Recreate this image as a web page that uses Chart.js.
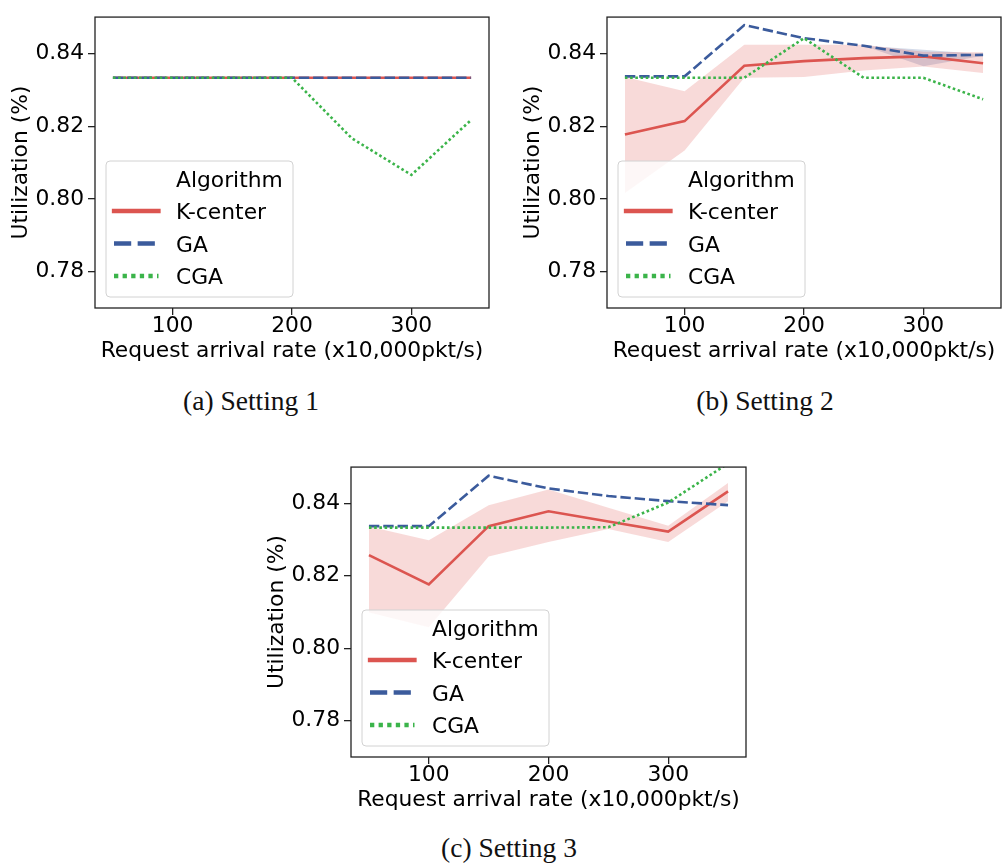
<!DOCTYPE html>
<html>
<head>
<meta charset="utf-8">
<script src="https://cdn.jsdelivr.net/npm/chart.js@4.4.0/dist/chart.umd.min.js"></script>
<style>
  html, body { margin: 0; padding: 0; background: #fff; }
  body { position: relative; width: 1002px; height: 865px; overflow: hidden; }
  canvas { position: absolute; }
  .caption {
    position: absolute; width: 240px; text-align: center;
    font-family: "Liberation Serif", serif; font-size: 27.5px; line-height: 27.5px;
    color: #111; white-space: nowrap;
  }
</style>
</head>
<body>
<canvas id="s1" width="500" height="380" style="left:0;top:0"></canvas>
<canvas id="s2" width="502" height="380" style="left:500px;top:0"></canvas>
<canvas id="s3" width="500" height="380" style="left:260px;top:450px"></canvas>
<div class="caption" style="left:131px;top:387px">(a) Setting 1</div>
<div class="caption" style="left:645px;top:387px">(b) Setting 2</div>
<div class="caption" style="left:389px;top:834px">(c) Setting 3</div>

<script>
// request arrival rate (x10,000 pkt/s)
const rates = [50, 100, 150, 200, 250, 300, 350];
const xTicks = [100, 200, 300];
const yTicks = [0.78, 0.80, 0.82, 0.84];

// Setting 1
const kcenter1 = [0.8333, 0.8333, 0.8333, 0.8333, 0.8333, 0.8333, 0.8333];
const ga1      = [0.8333, 0.8333, 0.8333, 0.8333, 0.8333, 0.8333, 0.8333];
const cga1     = [0.8333, 0.8333, 0.8333, 0.8333, 0.8167, 0.8066, 0.8217];

// Setting 2
const kcenter2   = [0.8177, 0.8214, 0.8366, 0.8379, 0.8387, 0.8392, 0.8373];
const kcenter2Lo = [0.8016, 0.8133, 0.8333, 0.8335, 0.8353, 0.8364, 0.8346];
const kcenter2Hi = [0.8335, 0.8296, 0.8424, 0.8424, 0.8424, 0.8405, 0.8403];
const ga2        = [0.8337, 0.8337, 0.8478, 0.8442, 0.8421, 0.8394, 0.8396];
const ga2Lo      = [0.8337, 0.8337, 0.8478, 0.8442, 0.8421, 0.8365, 0.8394];
const ga2Hi      = [0.8337, 0.8337, 0.8478, 0.8442, 0.8421, 0.8410, 0.8398];
const cga2       = [0.8333, 0.8333, 0.8333, 0.8442, 0.8333, 0.8333, 0.8274];

// Setting 3
const kcenter3   = [0.8257, 0.8176, 0.8337, 0.8378, 0.8350, 0.8322, 0.8433];
const kcenter3Lo = [0.8099, 0.8058, 0.8253, 0.8293, 0.8329, 0.8293, 0.8406];
const kcenter3Hi = [0.8336, 0.8298, 0.8395, 0.8438, 0.8388, 0.8338, 0.8456];
const ga3        = [0.8337, 0.8337, 0.8476, 0.8441, 0.8420, 0.8406, 0.8395];
const cga3       = [0.8333, 0.8333, 0.8333, 0.8333, 0.8334, 0.8402, 0.8510];

const RED = '#dc5550', BLUE = '#3b5b9c', GREEN = '#3bb44a';
const RED_BAND = 'rgba(221,85,80,0.22)', BLUE_BAND = 'rgba(59,91,156,0.22)';
const FONT = 'DejaVu Sans';
const FS = 21.8;
const LW = 2.6;      // line width in the plot
const LEG_LW = 4.3;  // line width of legend handles

function pts(vals) {
  return rates.map((r, i) => ({ x: r, y: vals[i] }));
}

function band(hi, lo, color) {
  return [
    { data: pts(hi), borderWidth: 0, pointRadius: 0, backgroundColor: color, fill: '+1', isBand: true, order: 10 },
    { data: pts(lo), borderWidth: 0, pointRadius: 0, fill: false, isBand: true, order: 10 },
  ];
}

function line(label, vals, color, dash, order) {
  return {
    label, data: pts(vals), borderColor: color, borderWidth: LW,
    borderDash: dash.map(d => d * LW), dashUnits: dash,
    pointRadius: 0, fill: false, tension: 0, order,
  };
}

// box around the plot area
const frame = {
  id: 'frame',
  afterDraw(chart) {
    const { ctx, chartArea: a } = chart;
    ctx.save();
    ctx.strokeStyle = '#222';
    ctx.lineWidth = 1.3;
    ctx.strokeRect(a.left, a.top, a.right - a.left, a.bottom - a.top);
    ctx.restore();
  }
};

// legend with a title row, lower-left inside the axes
const legendBox = {
  id: 'legendBox',
  afterDatasetsDraw(chart) {
    const { ctx, chartArea: a } = chart;
    const w = 187, h = 136;
    const x = a.left + 11, y = a.bottom - 11 - h;
    ctx.save();
    ctx.beginPath();
    ctx.roundRect(x, y, w, h, 4);
    ctx.fillStyle = 'rgba(255,255,255,0.8)';
    ctx.fill();
    ctx.strokeStyle = '#d2d2d2';
    ctx.lineWidth = 1;
    ctx.stroke();

    ctx.font = FS + 'px "' + FONT + '"';
    ctx.fillStyle = '#000';
    ctx.textBaseline = 'alphabetic';
    ctx.fillText('Algorithm', x + 70, y + 26);

    chart.data.datasets.filter(d => !d.isBand).forEach((d, i) => {
      const ry = y + 50 + i * 32.5;
      const solid = d.dashUnits.length === 0;
      ctx.beginPath();
      ctx.setLineDash(d.dashUnits.map(u => u * LEG_LW));
      ctx.lineCap = solid ? 'square' : 'butt';
      ctx.lineWidth = LEG_LW;
      ctx.strokeStyle = d.borderColor;
      ctx.moveTo(x + 8, ry);
      ctx.lineTo(x + 52.5, ry);
      ctx.stroke();
      ctx.fillText(d.label, x + 70, ry + 8);
    });
    ctx.restore();
  }
};

function makeChart(id, box, datasets) {
  const lh = FS * 1.2;
  const [pl, pt, pr, pb] = box.plot;
  const yAxisW = pl - box.cx;
  const xAxisH = box.cy + box.h - pb;

  return new Chart(document.getElementById(id), {
    type: 'line',
    data: { datasets },
    plugins: [frame, legendBox],
    options: {
      responsive: false,
      animation: false,
      layout: { padding: { left: 0, top: pt - box.cy, right: box.cx + box.w - pr, bottom: 0 } },
      plugins: {
        legend: { display: false },
        tooltip: { enabled: false },
        filler: { drawTime: 'beforeDatasetsDraw' },
      },
      scales: {
        x: {
          type: 'linear',
          min: 35, max: 365,
          afterBuildTicks: s => { s.ticks = xTicks.map(v => ({ value: v })); },
          afterFit: s => { s.height = xAxisH; },
          border: { display: false },
          grid: { drawOnChartArea: false, drawTicks: true, tickLength: 7, color: '#222', lineWidth: 1.3 },
          ticks: { color: '#000', padding: 0, maxRotation: 0, font: { family: FONT, size: FS, lineHeight: 1 } },
          title: {
            display: true, text: 'Request arrival rate (x10,000pkt/s)', color: '#000',
            font: { family: FONT, size: FS, lineHeight: 1.2 },
            padding: { top: 0, bottom: box.cy + box.h - (pb + 43.2) - lh / 2 },
          },
        },
        y: {
          min: 0.77, max: 0.85,
          afterBuildTicks: s => { s.ticks = yTicks.map(v => ({ value: v })); },
          afterFit: s => { s.width = yAxisW; },
          border: { display: false },
          grid: { drawOnChartArea: false, drawTicks: true, tickLength: 7, color: '#222', lineWidth: 1.3 },
          ticks: {
            color: '#000', padding: 4,
            font: { family: FONT, size: FS },
            callback: v => v.toFixed(2),
          },
          title: {
            display: true, text: 'Utilization (%)', color: '#000',
            font: { family: FONT, size: FS, lineHeight: 1.2 },
            padding: { top: (pl - 73.5) - box.cx - lh / 2, bottom: 0 },
          },
        },
      },
    },
  });
}

makeChart('s1', { cx: 0, cy: 0, w: 500, h: 380, plot: [95, 14, 489, 308] }, [
  line('K-center', kcenter1, RED, [], 3),
  line('GA', ga1, BLUE, [4, 1.5], 2),
  line('CGA', cga1, GREEN, [1, 1], 1),
]);

makeChart('s2', { cx: 500, cy: 0, w: 502, h: 380, plot: [607, 14, 1001, 308] }, [
  ...band(kcenter2Hi, kcenter2Lo, RED_BAND),
  ...band(ga2Hi, ga2Lo, BLUE_BAND),
  line('K-center', kcenter2, RED, [], 3),
  line('GA', ga2, BLUE, [4, 1.5], 2),
  line('CGA', cga2, GREEN, [1, 1], 1),
]);

makeChart('s3', { cx: 260, cy: 450, w: 500, h: 380, plot: [351, 463, 746, 757] }, [
  ...band(kcenter3Hi, kcenter3Lo, RED_BAND),
  line('K-center', kcenter3, RED, [], 3),
  line('GA', ga3, BLUE, [4, 1.5], 2),
  line('CGA', cga3, GREEN, [1, 1], 1),
]);
</script>
</body>
</html>
